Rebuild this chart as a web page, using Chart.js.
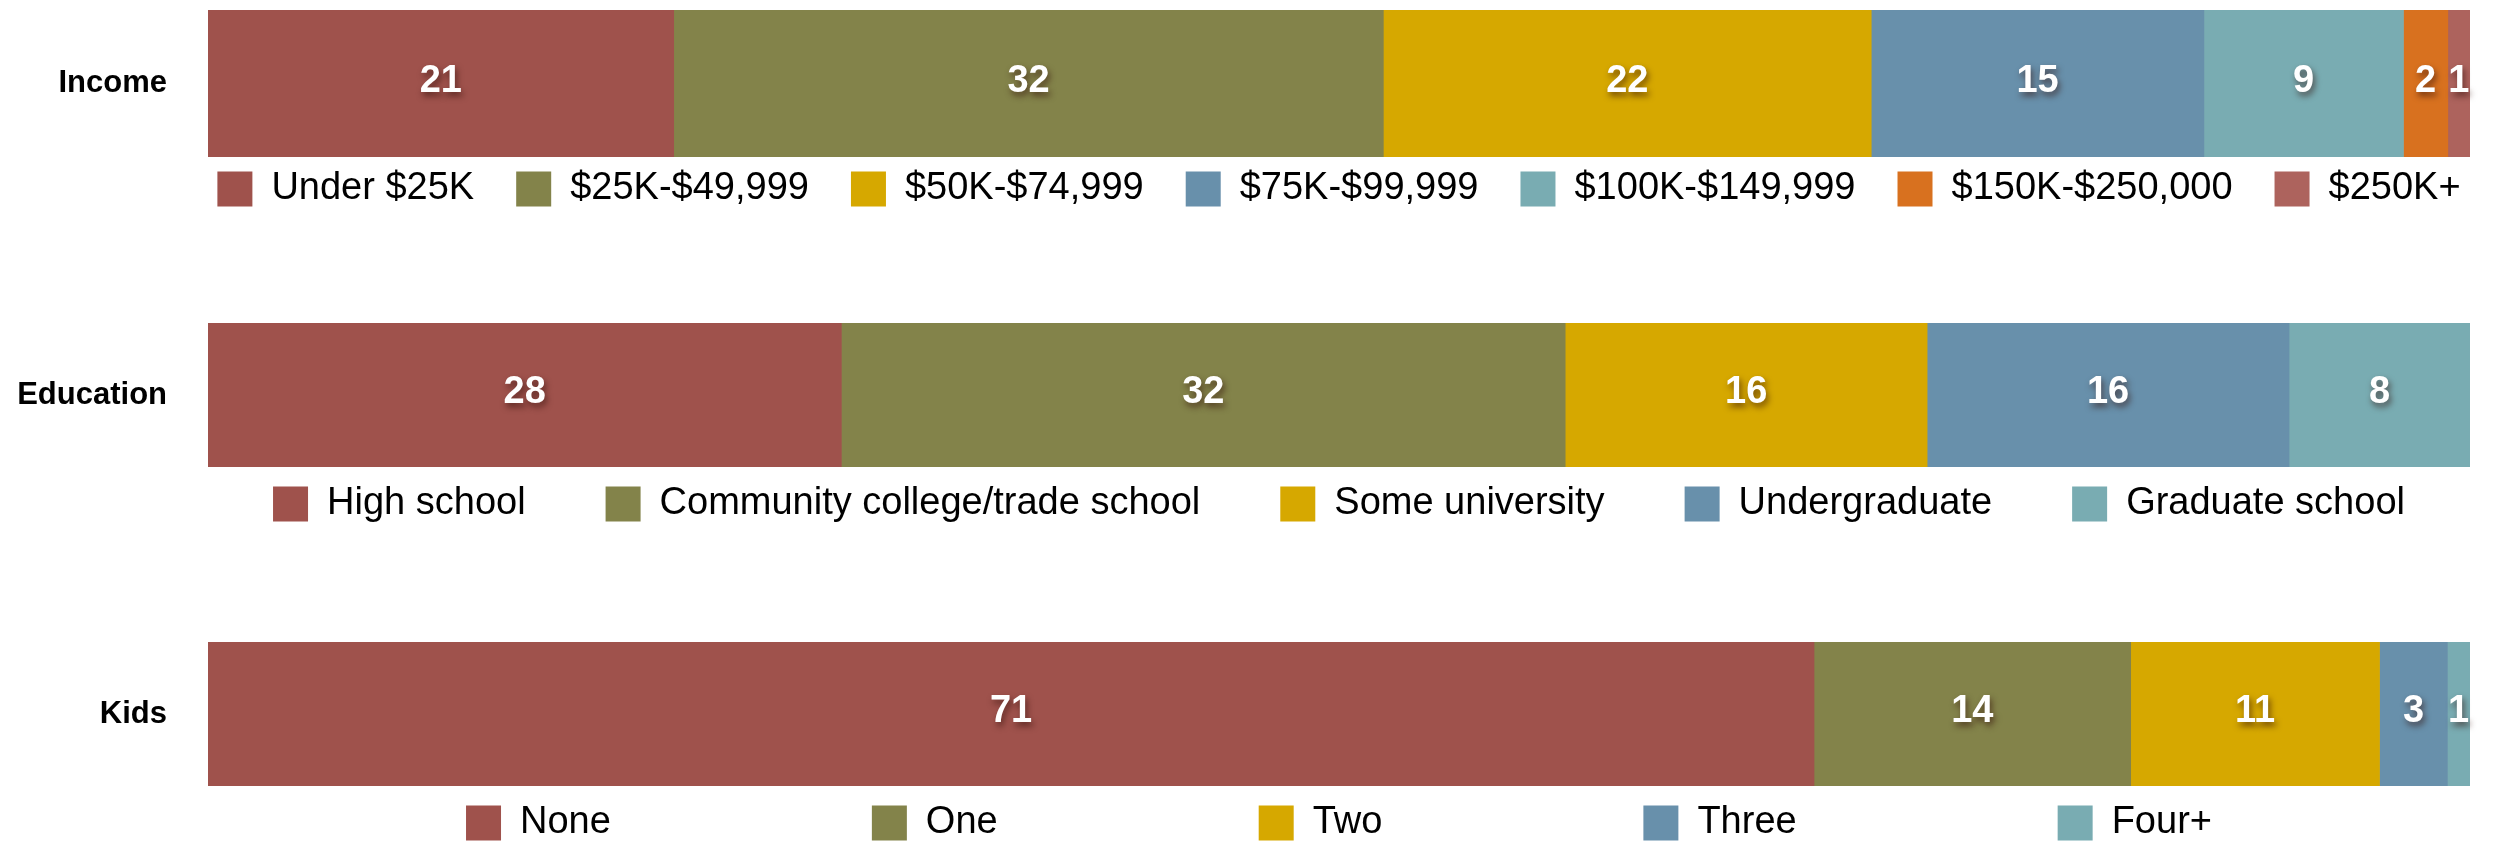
<html>
<head>
  <script src="https://cdn.jsdelivr.net/npm/chart.js@4.4.0/dist/chart.umd.min.js"></script>
  <style>
    body{margin:0;background:#fff;overflow:hidden;width:2496px;height:843px;position:relative}
    canvas{position:absolute;left:0}
  </style>
</head>
<body>
<canvas id="c1" width="2496" height="227" style="top:0px"></canvas>
<canvas id="c2" width="2496" height="224" style="top:313px"></canvas>
<canvas id="c3" width="2496" height="224" style="top:632px"></canvas>
<script>
  // data
  var incomeCats = ['Under $25K', '$25K-$49,999', '$50K-$74,999', '$75K-$99,999', '$100K-$149,999', '$150K-$250,000', '$250K+'];
  var incomeVals = [21, 32, 22, 15, 9, 2, 1];
  var segCols = ['#9f524c', '#83834a', '#d6a800', '#6890ab', '#79acb2', '#d8711f', '#ad635d'];

  var eduCats = ['High school', 'Community college/trade school', 'Some university', 'Undergraduate', 'Graduate school'];
  var eduVals = [28, 32, 16, 16, 8];

  var kidsCats = ['None', 'One', 'Two', 'Three', 'Four+'];
  var kidsVals = [71, 14, 11, 3, 1];

  var rowLabels = ['Income', 'Education', 'Kids'];

  var FONT = '"Liberation Sans", Arial, Helvetica, sans-serif';

  eb = s => document.getElementById(s);

  // white numbers in the middle of every segment
  var segLabels = {
    id: 'segLabels',
    afterDatasetsDraw(chart) {
      var ctx = chart.ctx;
      ctx.save();
      ctx.font = 'bold 38px ' + FONT;
      ctx.fillStyle = '#fff';
      ctx.textAlign = 'center';
      ctx.textBaseline = 'middle';
      ctx.shadowColor = 'rgba(50,15,10,0.6)';
      ctx.shadowBlur = 6;
      ctx.shadowOffsetX = 2;
      ctx.shadowOffsetY = 4;
      chart.data.datasets.forEach((ds, i) => {
        var bar = chart.getDatasetMeta(i).data[0];
        ctx.fillText(ds.data[0], (bar.x + bar.base) / 2, bar.y - 2);
      });
      ctx.restore();
    }
  };

  // keep legend right under the bar and centred on the plot
  function legendPlace(gap) {
    return {
      id: 'legendPlace',
      afterLayout(chart) {
        var lg = chart.legend, ca = chart.chartArea;
        var pad = lg.options.labels.padding;
        var dx = (ca.left + ca.right) / 2 - (lg.left + lg.right) / 2;
        var top = ca.bottom + gap - pad;
        lg.left += dx; lg.right += dx;
        lg.top = top;
        lg.bottom = top + pad + 60;
      }
    };
  }

  function mkChart(id, row, cats, vals, pad, gap) {
    var total = vals.reduce((a, b) => a + b, 0);
    return new Chart(eb(id), {
      type: 'bar',
      data: {
        labels: [row],
        datasets: cats.map((c, i) => ({
          label: c,
          data: [vals[i]],
          backgroundColor: segCols[i],
          borderWidth: 0,
          barPercentage: 1,
          categoryPercentage: 1
        }))
      },
      options: {
        indexAxis: 'y',
        responsive: false,
        animation: false,
        events: [],
        layout: {padding: {top: 10, right: 26, left: 0, bottom: 0}},
        plugins: {
          tooltip: {enabled: false},
          legend: {
            position: 'bottom',
            maxHeight: 70,
            labels: {
              boxWidth: 35,
              boxHeight: 35,
              padding: pad,
              color: '#000',
              font: {family: FONT, size: 38}
            }
          }
        },
        scales: {
          x: {stacked: true, display: false, min: 0, max: total},
          y: {
            stacked: true,
            grid: {display: false, drawTicks: false},
            border: {display: false},
            ticks: {padding: 41, color: '#000', font: {family: FONT, size: 31, weight: 'bold'}},
            afterFit(s) { s.width = 208; s.paddingTop = 0; s.paddingBottom = 0; }
          }
        }
      },
      plugins: [segLabels, legendPlace(gap)]
    });
  }

  mkChart('c1', rowLabels[0], incomeCats, incomeVals, 42, 13);
  mkChart('c2', rowLabels[1], eduCats, eduVals, 80, 18);
  mkChart('c3', rowLabels[2], kidsCats, kidsVals, 261, 18);
</script>
</body>
</html>
